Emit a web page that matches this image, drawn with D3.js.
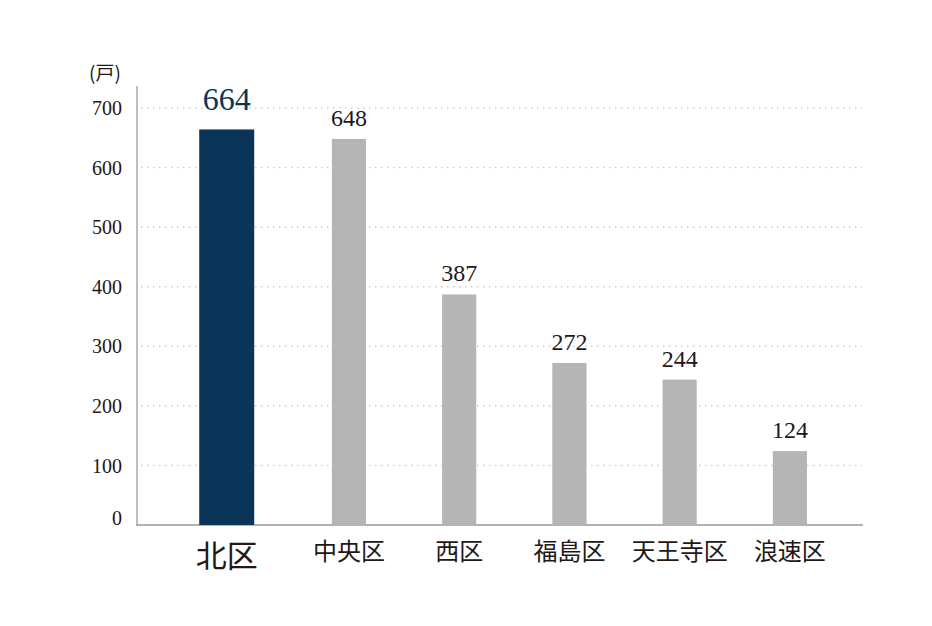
<!DOCTYPE html>
<html><head><meta charset="utf-8">
<script src="https://cdn.jsdelivr.net/npm/d3@7"></script>
<style>body{margin:0;background:#fff}svg{display:block}
.serif{font-family:"Liberation Serif","Times New Roman",serif}
.cjk{font-family:"Noto Sans CJK JP","Noto Sans CJK SC",sans-serif}
</style>
</head><body>
<script>
const categories = ["北区","中央区","西区","福島区","天王寺区","浪速区"];
const values = [664,648,387,272,244,124];
const highlight = "北区";
const yTicks = [0,100,200,300,400,500,600,700];
const unitLabel = "(戸)";

const W=932,H=626;
const svg=d3.select("body").append("svg").attr("width",W).attr("height",H);

const y=d3.scaleLinear().domain([0,700]).range([525,108]);
const x=d3.scaleBand().domain(categories).range([183.6,845]).paddingInner(0.69).paddingOuter(0.345);
const barW=d=>d===highlight?55:x.bandwidth();
const barCx=d=>x(d)+x.bandwidth()/2+(d===highlight?-12:0);

svg.append("g").selectAll("line").data(yTicks.filter(t=>t>0)).join("line")
  .attr("x1",141).attr("x2",862).attr("y1",d=>y(d)).attr("y2",d=>y(d))
  .attr("stroke","#cdcdcd").attr("stroke-width",1.5).attr("stroke-dasharray","1.5,4.5");

const yAxis=svg.append("g").attr("transform","translate(137,0)")
  .call(d3.axisLeft(y).tickValues(yTicks).tickSize(0).tickPadding(15));
yAxis.select(".domain").remove();
yAxis.attr("font-family",null).attr("font-size",null);
yAxis.selectAll("text").attr("class","serif").style("font-size","20px").attr("fill","#231815")
  .attr("dy",d=>d===0?"-0.05em":"0.33em");
svg.append("line").attr("x1",137).attr("x2",137).attr("y1",86).attr("y2",525).attr("stroke","#aaa").attr("stroke-width",1.5);
svg.append("line").attr("x1",136).attr("x2",863).attr("y1",525).attr("y2",525).attr("stroke","#999").attr("stroke-width",1.5);

svg.append("text").attr("x",105).attr("y",80).attr("text-anchor","middle").attr("class","cjk")
  .style("font-size","19px").attr("fill","#231815").text(unitLabel);

svg.append("g").selectAll("rect").data(categories).join("rect")
  .attr("x",d=>barCx(d)-barW(d)/2).attr("width",barW)
  .attr("y",(d,i)=>y(values[i])).attr("height",(d,i)=>525-y(values[i]))
  .attr("fill",d=>d===highlight?"#0b3558":"#b5b5b5");

svg.append("g").selectAll("text").data(categories).join("text")
  .attr("x",barCx).attr("y",(d,i)=>y(values[i])-(d===highlight?19:13))
  .attr("text-anchor","middle").attr("class","serif")
  .style("font-size",d=>d===highlight?"32px":"24px")
  .attr("fill",d=>d===highlight?"#0b3558":"#231815")
  .text((d,i)=>values[i]);

svg.append("g").selectAll("text").data(categories).join("text")
  .attr("x",barCx).attr("y",d=>d===highlight?567:560)
  .attr("text-anchor","middle").attr("class","cjk")
  .style("font-size",d=>d===highlight?"31px":"24px")
  .attr("fill","#231815").text(d=>d);
</script>
</body></html>
